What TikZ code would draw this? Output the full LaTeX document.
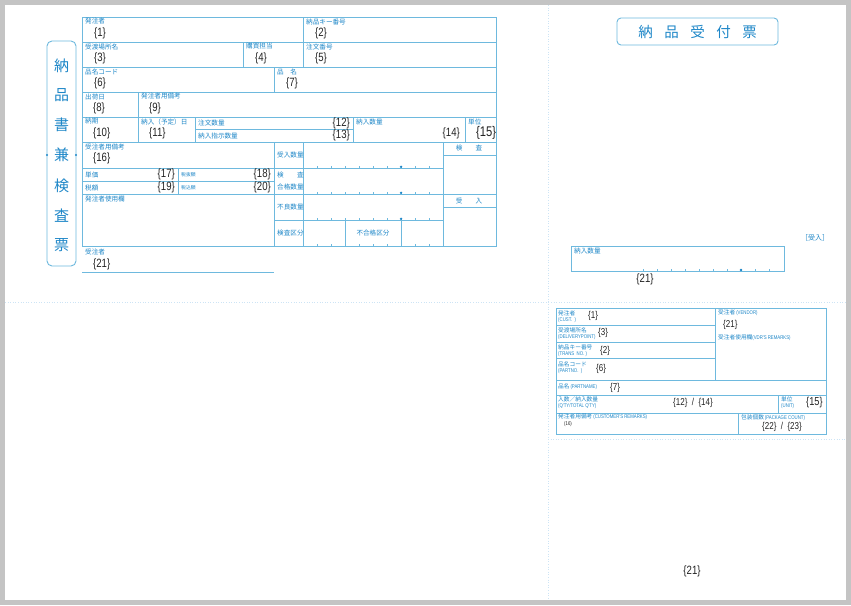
\documentclass[tikz,border=0pt]{standalone}
\usepackage{fontspec}
\newfontfamily\jpfont{Noto Sans CJK JP}
\newfontfamily\numfont[FakeStretch=0.8]{Liberation Sans}
\definecolor{lineblue}{RGB}{110,185,222}
\definecolor{labelblue}{RGB}{30,135,200}
\definecolor{numgray}{RGB}{35,35,35}
\definecolor{guideblue}{RGB}{205,228,245}
\definecolor{pagegray}{RGB}{196,196,196}

\begin{document}
\begin{tikzpicture}[x=1pt,y=-1pt,
		frame/.style={draw=lineblue, line width=0.9pt},
		rule/.style={draw=lineblue, line width=0.7pt},
		guide/.style={draw=guideblue, dotted, line width=0.6pt},
		tickmark/.style={draw=lineblue, line width=0.5pt},
		lbl/.style={anchor=west, inner sep=0pt, text=labelblue, font=\jpfont\fontsize{6.6}{7}\selectfont},
		clbl/.style={lbl, anchor=center},
		slbl/.style={lbl, font=\jpfont\fontsize{5.7}{6}\selectfont},
		sublbl/.style={lbl, font=\numfont\fontsize{5.4}{6}\selectfont},
		num/.style={anchor=west, inner sep=0pt, text=numgray, font=\numfont\fontsize{12}{12}\selectfont},
		rnum/.style={num, anchor=east},
		smallnum/.style={num, font=\numfont\fontsize{10}{10}\selectfont},
		bigchar/.style={inner sep=0pt, text=labelblue, font=\jpfont\fontsize{15}{15}\selectfont}
		]
		
	\fill[pagegray] (0,0) rectangle (851,605);
	\fill[white] (5,5) rectangle (846,600);
	\draw[guide] (5,302) -- (846,302);
	\draw[guide] (548,5) -- (548,600);
	\draw[guide] (548,439) -- (846,439);
	
	% 納品書兼検査票
	\draw[frame, rounded corners=5pt] (47,41) rectangle (76,266);
	\fill[labelblue] (47,155) circle (1.1);
	\fill[labelblue] (76,155) circle (1.1);
	\node[bigchar](T1) at (61.5,66){納};
	\node[bigchar](T2) at (61.5,95){品};
	\node[bigchar](T3) at (61.5,125){書};
	\node[bigchar](T4) at (61.5,155){兼};
	\node[bigchar](T5) at (61.5,186){検};
	\node[bigchar](T6) at (61.5,216){査};
	\node[bigchar](T7) at (61.5,245){票};
	
	\draw[frame] (82,17) rectangle (496,246);
	\draw[rule] (82,42) -- (496,42);
	\draw[rule] (82,67) -- (496,67);
	\draw[rule] (82,92) -- (496,92);
	\draw[rule] (82,117) -- (496,117);
	\draw[rule] (82,142) -- (496,142);
	\draw[rule] (195,129) -- (353,129);
	\draw[rule] (303,17) -- (303,67);
	\draw[rule] (243,42) -- (243,67);
	\draw[rule] (274,67) -- (274,92);
	\draw[rule] (138,92) -- (138,142);
	\draw[rule] (195,117) -- (195,142);
	\draw[rule] (353,117) -- (353,142);
	\draw[rule] (465,117) -- (465,142);
	\draw[rule] (274,142) -- (274,246);
	\draw[rule] (303,142) -- (303,246);
	\draw[rule] (443,142) -- (443,246);
	\draw[rule] (82,168) -- (443,168);
	\draw[rule] (82,181) -- (274,181);
	\draw[rule] (82,194) -- (443,194);
	\draw[rule] (274,220) -- (443,220);
	\draw[rule] (178,168) -- (178,194);
	\draw[rule] (345,220) -- (345,246);
	\draw[rule] (401,220) -- (401,246);
	\draw[rule] (443,155) -- (496,155);
	\draw[rule] (443,194) -- (496,194);
	\draw[rule] (443,207) -- (496,207);
	\foreach \y in {168,194,220,246}
		\foreach \x in {317,331,...,429}
			\draw[tickmark] (\x,\y) -- (\x,{\y-2.5});
	\foreach \y in {168,194,220}
		\fill[labelblue] (401,{\y-1.2}) circle (1.3);
	\draw[rule] (82,272) -- (274,272);
	
	\node[lbl](L1) at (85,21.5){発注者};
	\node[num](N1) at (94,33.5){\{1\}};
	\node[lbl](L2) at (306,21.5){納品キー番号};
	\node[num](N2) at (315,33.5){\{2\}};
	\node[lbl](L3) at (85,46.5){受渡場所名};
	\node[num](N3) at (94,58.5){\{3\}};
	\node[lbl](L4) at (246,46.5){購買担当};
	\node[num](N4) at (255,58.5){\{4\}};
	\node[lbl](L5) at (306,46.5){注文番号};
	\node[num](N5) at (315,58.5){\{5\}};
	\node[lbl](L6) at (85,71.5){品名コード};
	\node[num](N6) at (94,83.5){\{6\}};
	\node[lbl](L7) at (277,71.5){品　名};
	\node[num](N7) at (286,83.5){\{7\}};
	\node[lbl](L8) at (85,96.5){出荷日};
	\node[num](N8) at (93,108.5){\{8\}};
	\node[lbl](L9) at (141,96.5){発注者用備考};
	\node[num](N9) at (149,108.5){\{9\}};
	\node[lbl](L10) at (85,121.5){納期};
	\node[num](N10) at (93,133.5){\{10\}};
	\node[lbl](L11) at (141,121.5){納入（予定）日};
	\node[num](N11) at (149,133.5){\{11\}};
	\node[lbl](L12) at (198,123){注文数量};
	\node[rnum](N12) at (350,123){\{12\}};
	\node[lbl](L13) at (198,135.5){納入指示数量};
	\node[rnum](N13) at (350,135.5){\{13\}};
	\node[lbl](L14) at (356,121.5){納入数量};
	\node[rnum](N14) at (460,133.5){\{14\}};
	\node[lbl](L15) at (468,121.5){単位};
	\node[num, font=\numfont\fontsize{14}{14}\selectfont](N15) at (476,133){\{15\}};
	\node[lbl](L16) at (85,146.5){受注者用備考};
	\node[num](N16) at (93,158.5){\{16\}};
	\node[lbl](L17) at (85,174.5){単価};
	\node[rnum](N17) at (175,174.5){\{17\}};
	\node[lbl, font=\jpfont\fontsize{4.8}{5}\selectfont](L18) at (181,174.5){税抜額};
	\node[rnum](N18) at (271,174.5){\{18\}};
	\node[lbl](L19) at (85,187.5){税額};
	\node[rnum](N19) at (175,187.5){\{19\}};
	\node[lbl, font=\jpfont\fontsize{4.8}{5}\selectfont](L20) at (181,187.5){税込額};
	\node[rnum](N20) at (271,187.5){\{20\}};
	\node[lbl](L21) at (85,198.5){発注者使用欄};
	\node[lbl](L22) at (85,251.5){受注者};
	\node[num](N21) at (93,264){\{21\}};
	\node[lbl](Q1) at (277,155){受入数量};
	\node[lbl](Q2) at (277,175){検　　査};
	\node[lbl](Q3) at (277,186.5){合格数量};
	\node[lbl](Q4) at (277,207){不良数量};
	\node[lbl](Q5) at (277,233){検査区分};
	\node[clbl](Q6) at (373,233){不合格区分};
	\node[clbl](K1) at (469,148.5){検　　査};
	\node[clbl](K2) at (469,200.5){受　　入};
	
	% 納品受付票
	\draw[frame, rounded corners=4pt] (617,18) rectangle (778,45);
	\node[inner sep=0pt, text=labelblue, font=\jpfont\fontsize{14.5}{14.5}\selectfont](R0) at (697.5,31.5)
		{納\hspace{11.5pt}品\hspace{11.5pt}受\hspace{11.5pt}付\hspace{11.5pt}票};
	\node[clbl, font=\jpfont\fontsize{7}{7}\selectfont](R1) at (815,238){［受入］};
	\draw[frame] (571,246) rectangle (784,271);
	\foreach \x in {643,657,...,769}
		\draw[tickmark] (\x,271) -- (\x,268.5);
	\fill[labelblue] (741,270) circle (1.3);
	\node[lbl](R2) at (574,251){納入数量};
	\node[num, anchor=center](R3) at (645,279){\{21\}};
	
	\draw[frame] (556,308) rectangle (826,434);
	\draw[rule] (556,325) -- (715,325);
	\draw[rule] (556,342) -- (715,342);
	\draw[rule] (556,358) -- (715,358);
	\draw[rule] (556,380) -- (826,380);
	\draw[rule] (556,395) -- (826,395);
	\draw[rule] (556,413) -- (826,413);
	\draw[rule] (715,308) -- (715,380);
	\draw[rule] (778,395) -- (778,413);
	\draw[rule] (738,413) -- (738,434);
	
	\node[slbl](B1) at (558,313){発注者};
	\node[sublbl](B1e) at (558,320.5){(CUST.\ \ )};
	\node[smallnum](M1) at (588,316){\{1\}};
	\node[slbl](B2) at (558,330){受渡場所名};
	\node[sublbl](B2e) at (558,337.5){(DELIVERYPOINT)};
	\node[smallnum](M2) at (598,333){\{3\}};
	\node[slbl](B3) at (558,347){納品キー番号};
	\node[sublbl](B3e) at (558,354.5){(TRANS\ \ NO.\ )};
	\node[smallnum](M3) at (600,350.5){\{2\}};
	\node[slbl](B4) at (558,364){品名コード};
	\node[sublbl](B4e) at (558,371.5){(PARTNO.\ \ )};
	\node[smallnum](M4) at (596,369){\{6\}};
	\node[slbl](B5) at (558,386.5){品名\,{\numfont\fontsize{5.4}{6}\selectfont(PARTNAME)}};
	\node[smallnum](M5) at (610,388){\{7\}};
	\node[slbl](B6) at (558,399){入数／納入数量};
	\node[sublbl](B6e) at (558,406.5){(Q'TY/TOTAL\ Q'TY)};
	\node[smallnum, anchor=center](M6) at (693,403){\{12\}\ \ /\ \ \{14\}};
	\node[slbl](B7) at (781,399){単位};
	\node[sublbl](B7e) at (781,406.5){(UNIT)};
	\node[smallnum, font=\numfont\fontsize{11.5}{11.5}\selectfont](M7) at (806,403){\{15\}};
	\node[slbl](B8) at (558,417){発注者用備考\,{\numfont\fontsize{5.4}{6}\selectfont(CUSTOMER'S\ REMARKS)}};
	\node[sublbl, text=numgray](B8e) at (564,424.5){(16)};
	\node[slbl](B9) at (741,418){包装個数\,{\numfont\fontsize{5.4}{6}\selectfont(PACKAGE\ COUNT)}};
	\node[smallnum, anchor=center](M9) at (782,427){\{22\}\ \ /\ \ \{23\}};
	\node[slbl](V1) at (718,313){受注者\,{\numfont\fontsize{5.4}{6}\selectfont(VENDOR)}};
	\node[smallnum](V2) at (723,325){\{21\}};
	\node[slbl](V3) at (718,338){受注者使用欄{\numfont\fontsize{5.4}{6}\selectfont(VDR'S\ REMARKS)}};
	
	\node[num, anchor=center](Z1) at (692,571){\{21\}};
\end{tikzpicture}
\end{document}
